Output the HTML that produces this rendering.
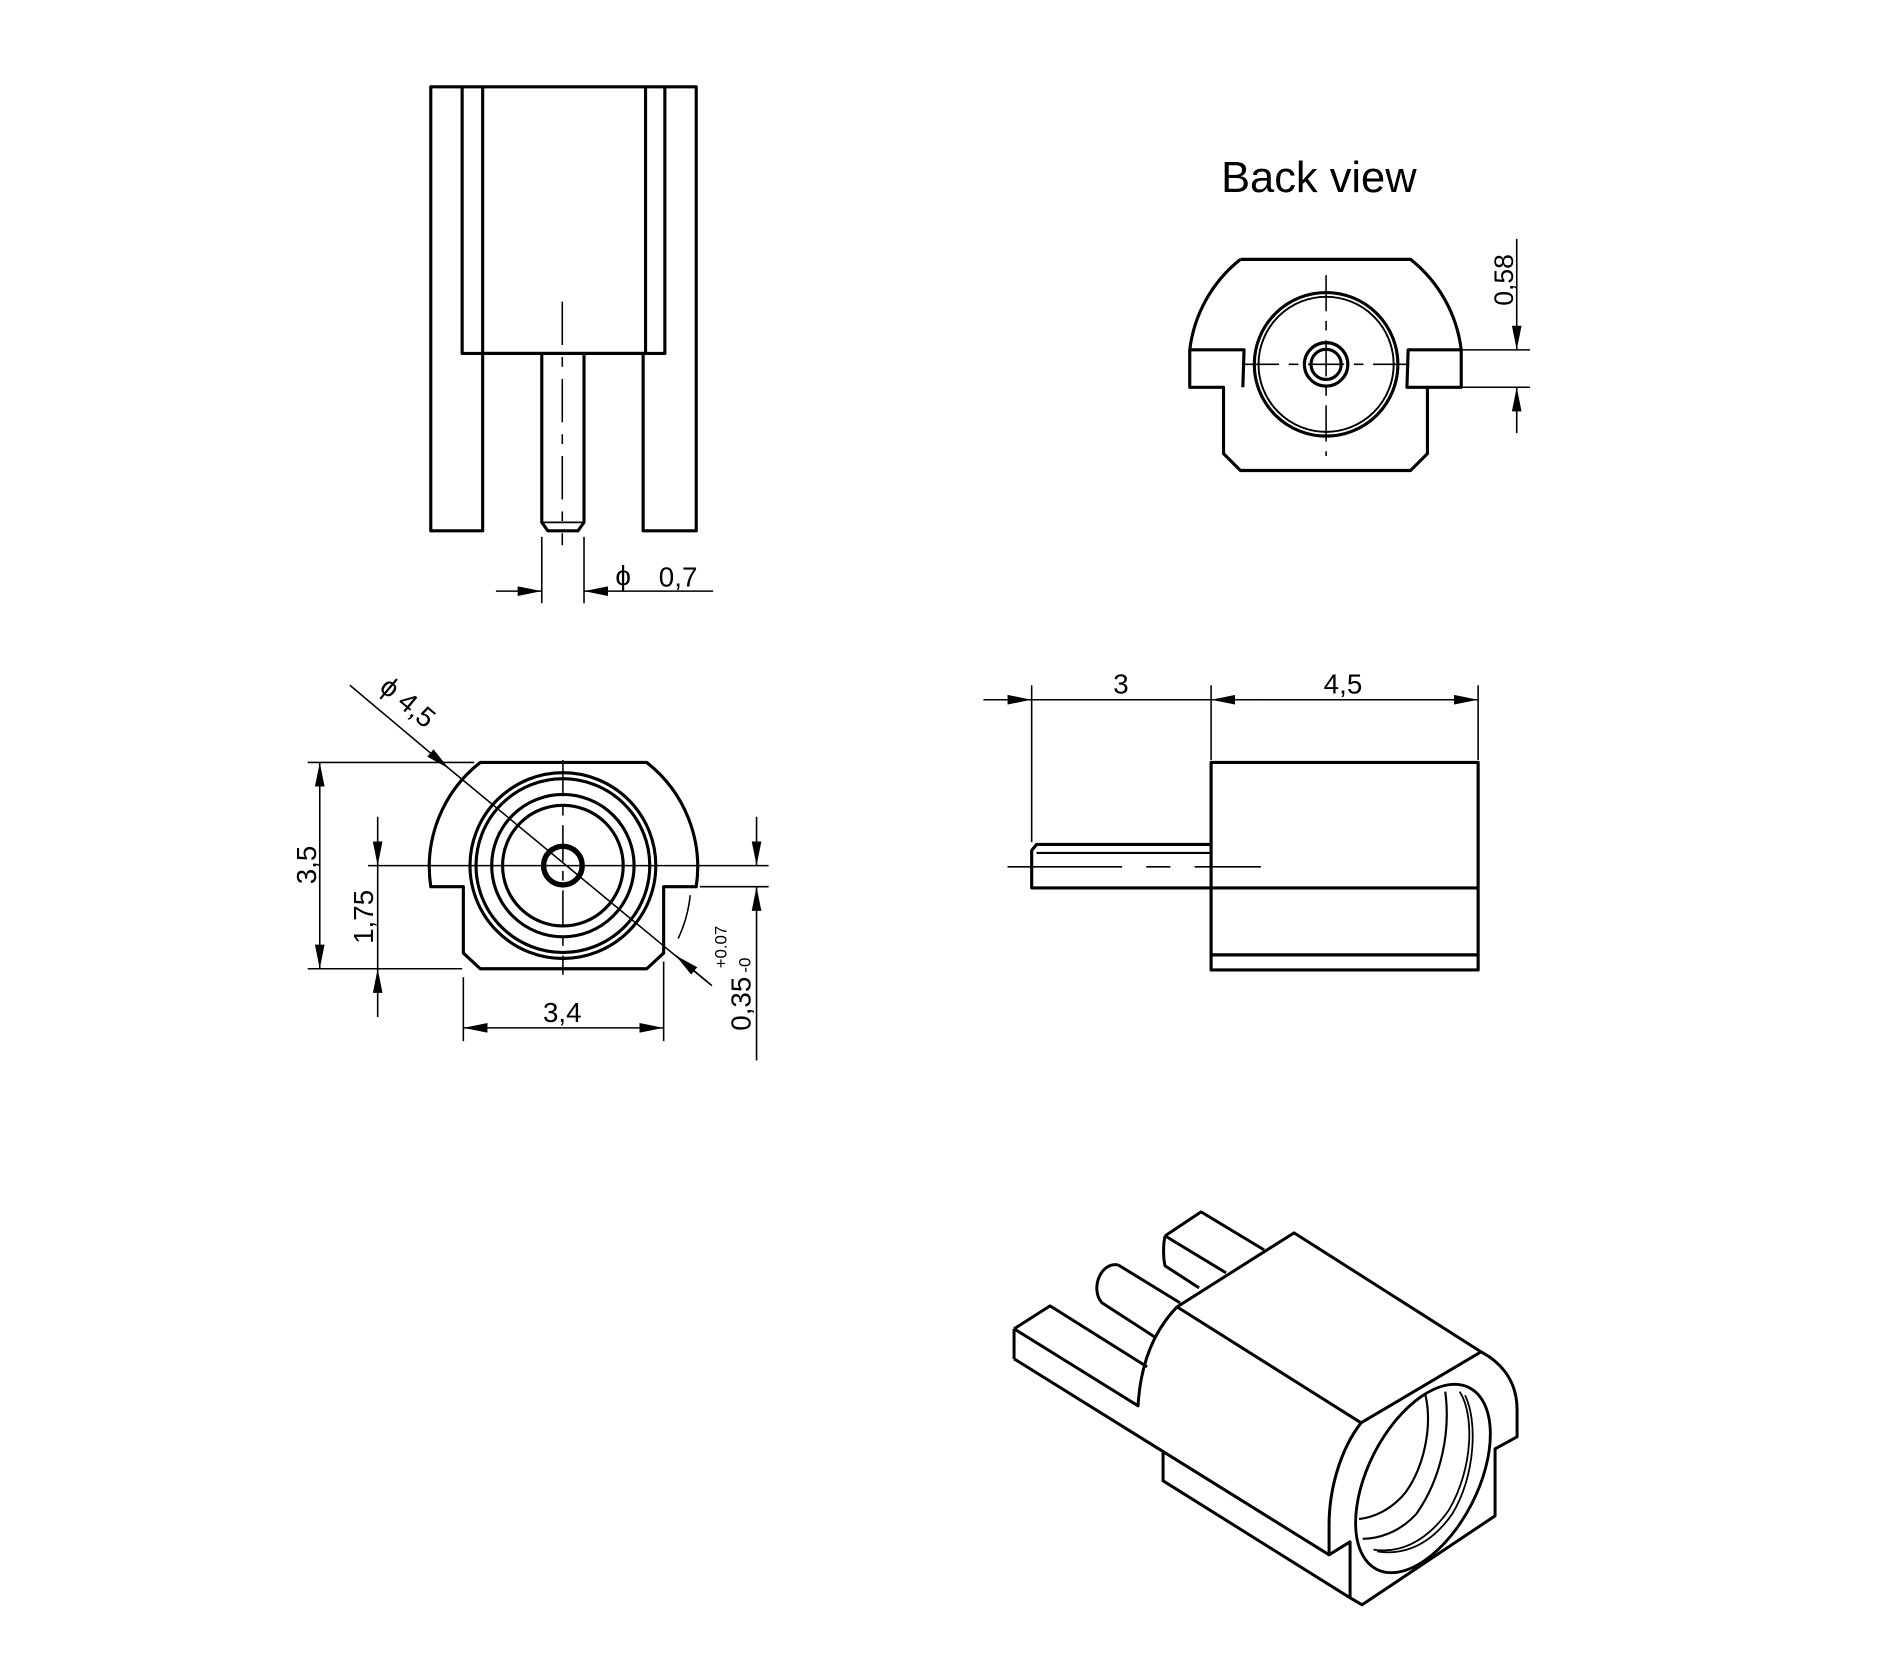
<!DOCTYPE html>
<html><head><meta charset="utf-8"><style>
html,body{margin:0;padding:0;background:#fff;}
svg{display:block;}
text{font-family:"Liberation Sans",Arial,sans-serif;fill:#000;}
</style></head><body>
<svg width="1892" height="1654" viewBox="0 0 1568 1371" preserveAspectRatio="none" xmlns="http://www.w3.org/2000/svg">
<defs>
<marker id="a" viewBox="0 0 20 8" refX="20" refY="4" markerWidth="20" markerHeight="8" markerUnits="userSpaceOnUse" orient="auto-start-reverse"><path d="M0,0 L20,4 L0,8 z" fill="#000"/></marker>
</defs>
<g fill="none" stroke="#000" stroke-width="2.6" stroke-linejoin="round">
<!-- Top-left view -->
<path d="M357,72 H577 V440 H533 V293 H400 V440 H357 Z"/>
<path d="M383,72 V293 H551 V72" />
<line x1="400" y1="72" x2="400" y2="293"/>
<line x1="535" y1="72" x2="535" y2="293"/>
<path d="M449,293 V433 L454,440 H479 L484,433 V293"/>
<line x1="449" y1="433" x2="484" y2="433" stroke-width="1.5"/>
</g>
<g fill="none" stroke="#000" stroke-width="1.3">
<line x1="466" y1="250" x2="466" y2="452" stroke-dasharray="36,10,8,10"/>
<line x1="449" y1="445" x2="449" y2="500"/>
<line x1="484" y1="445" x2="484" y2="500"/>
<line x1="411" y1="490" x2="449" y2="490" marker-end="url(#a)"/>
<line x1="591" y1="490" x2="484" y2="490" marker-end="url(#a)"/>
</g>
<text x="510" y="485" font-size="23">ϕ</text>
<text x="546" y="486" font-size="23">0,7</text>

<!-- Back view -->
<text x="1093" y="159" font-size="36" text-anchor="middle">Back view</text>
<g fill="none" stroke="#000" stroke-width="2.6" stroke-linejoin="round">
<path d="M1028,215 H1169 A113,113 0 0 1 1211,290 V321 H1166 L1167,290 H1211 M1183,321 V376 L1169,390 H1028 L1014,376 V321 H986 V290 H1031 L1030,321 M986,290 A113,113 0 0 1 1028,215"/>
<circle cx="1099" cy="302" r="59.5"/>
<circle cx="1099" cy="302" r="56" stroke-width="1.6"/>
<circle cx="1099" cy="302" r="18"/>
<circle cx="1099" cy="302" r="12.5"/>
</g>
<g fill="none" stroke="#000" stroke-width="1.3">
<line x1="1030" y1="302" x2="1168" y2="302" stroke-dasharray="30,8,8,8"/>
<line x1="1099" y1="228" x2="1099" y2="378" stroke-dasharray="30,8,8,8"/>
<line x1="1212" y1="290" x2="1268" y2="290"/>
<line x1="1212" y1="321" x2="1268" y2="321"/>
<line x1="1257" y1="198" x2="1257" y2="290" marker-end="url(#a)"/>
<line x1="1257" y1="359" x2="1257" y2="321" marker-end="url(#a)"/>
</g>
<text transform="translate(1254,232) rotate(-90)" font-size="22" text-anchor="middle">0,58</text>

<!-- Front view -->
<g fill="none" stroke="#000" stroke-width="2.6" stroke-linejoin="round">
<path d="M398,632 H536 A110,110 0 0 1 577,735 H550 V790 L536,803 H398 L384,790 V735 H357 A110,110 0 0 1 398,632 Z"/>
<circle cx="466.5" cy="717.5" r="77"/>
<circle cx="466.5" cy="717.5" r="72"/>
<circle cx="466.5" cy="717.5" r="59"/>
<circle cx="466.5" cy="717.5" r="50"/>
<circle cx="466.5" cy="717.5" r="16" stroke-width="4.5"/>
</g>
<g fill="none" stroke="#000" stroke-width="1.3">
<path d="M572,742 A110,110 0 0 1 562,778"/>
<line x1="466.5" y1="630" x2="466.5" y2="808" stroke-dasharray="30,8,8,8"/>
<line x1="305" y1="717.5" x2="637" y2="717.5"/>
<line x1="290" y1="568" x2="372" y2="637" marker-end="url(#a)"/>
<line x1="372" y1="637" x2="585" y2="813"/>
<line x1="590" y1="817" x2="560" y2="792" marker-end="url(#a)"/>
<line x1="255" y1="632" x2="393" y2="632"/>
<line x1="255" y1="803" x2="383" y2="803"/>
<line x1="265" y1="717" x2="265" y2="632" marker-end="url(#a)"/>
<line x1="265" y1="717" x2="265" y2="803" marker-end="url(#a)"/>
<line x1="313" y1="677" x2="313" y2="717.5" marker-end="url(#a)"/>
<line x1="313" y1="717.5" x2="313" y2="803"/>
<line x1="313" y1="843" x2="313" y2="803" marker-end="url(#a)"/>
<line x1="384" y1="810" x2="384" y2="863"/>
<line x1="550" y1="797" x2="550" y2="863"/>
<line x1="466" y1="852" x2="384" y2="852" marker-end="url(#a)"/>
<line x1="466" y1="852" x2="550" y2="852" marker-end="url(#a)"/>
<line x1="580" y1="735" x2="637" y2="735"/>
<line x1="627" y1="677" x2="627" y2="717.5" marker-end="url(#a)"/>
<line x1="627" y1="879" x2="627" y2="735" marker-end="url(#a)"/>
</g>
<text transform="translate(333,588) rotate(40)" font-size="23" text-anchor="middle">ϕ 4,5</text>
<text transform="translate(262,717) rotate(-90)" font-size="23" text-anchor="middle">3,5</text>
<text transform="translate(309,760) rotate(-90)" font-size="23" text-anchor="middle">1,75</text>
<text x="466" y="847" font-size="23" text-anchor="middle">3,4</text>
<text transform="translate(622,832) rotate(-90)" font-size="23" text-anchor="middle">0,35</text>
<text transform="translate(602,785) rotate(-90)" font-size="14" text-anchor="middle">+0.07</text>
<text transform="translate(622,800) rotate(-90)" font-size="14" text-anchor="middle">-0</text>

<!-- Side view -->
<g fill="none" stroke="#000" stroke-width="2.6" stroke-linejoin="round">
<path d="M1003.7,632 H1225 V804 H1003.7 Z"/>
<line x1="1003.7" y1="791.5" x2="1225" y2="791.5"/>
<path d="M1003.7,736 H855 V705 L859,700 H1003.7"/>
<line x1="859" y1="707" x2="1003.7" y2="707" stroke-width="1.8"/>
<line x1="1003.7" y1="736" x2="1225" y2="736"/>
</g>
<g fill="none" stroke="#000" stroke-width="1.3">
<line x1="835" y1="718.5" x2="1045" y2="718.5" stroke-dasharray="95,20,20,20"/>
<line x1="855" y1="568" x2="855" y2="698"/>
<line x1="1003.7" y1="568" x2="1003.7" y2="630"/>
<line x1="1225" y1="568" x2="1225" y2="630"/>
<line x1="815" y1="580" x2="855" y2="580" marker-end="url(#a)"/>
<line x1="855" y1="580" x2="1003.7" y2="580"/>
<line x1="1045" y1="580" x2="1003.7" y2="580" marker-end="url(#a)"/>
<line x1="1045" y1="580" x2="1225" y2="580" marker-end="url(#a)"/>
</g>
<text x="929" y="575" font-size="23" text-anchor="middle">3</text>
<text x="1113" y="575" font-size="23" text-anchor="middle">4,5</text>

<!-- Isometric -->
<g transform="scale(0.8288)" fill="none" stroke="#000" stroke-width="3" stroke-linejoin="round">
<path d="M1177,1307 L1294,1233 L1481,1352 L1361,1423 Z"/>
<path d="M1481,1352 C1505,1365 1517,1385 1517,1410 V1437 L1495,1449 V1516 L1362,1605 L1350,1598"/>
<path d="M1361,1423 C1340,1450 1329,1490 1329,1525 V1555 L1350,1542 V1598"/>
<path d="M1014,1359 L1329,1555"/>
<path d="M1163,1453 V1481 L1350,1598"/>
<path d="M1014,1329 L1050,1306 L1147,1367 M1014,1329 V1359 M1014,1329 L1138,1406 C1140,1370 1150,1335 1177,1307"/>
<path d="M1118,1265 C1100,1262 1090,1290 1102,1303 L1156,1338 M1118,1265 L1180,1303"/>
<path d="M1165,1236 L1201,1212 L1264,1250 M1165,1236 L1226,1273 M1165,1236 C1163,1245 1163,1258 1165,1266 L1199,1288"/>
</g>
<g transform="scale(0.8288) translate(1000,1180) scale(0.359)" fill="none" stroke="#000" stroke-width="8">
<ellipse cx="1178" cy="832" rx="284" ry="153" transform="rotate(-63 1178 832)"/>
<path d="M1185,600 C1205,690 1180,800 1130,870 C1090,920 1040,940 1000,945" stroke-width="6"/>
<path d="M1240,590 C1255,700 1230,830 1160,930 C1110,985 1050,1000 1010,1000" stroke-width="6"/>
<path d="M1280,590 C1320,650 1320,800 1250,920 C1180,1020 1100,1040 1040,1030" stroke-width="5"/>
<path d="M1295,600 C1330,670 1325,820 1260,930 C1190,1030 1110,1045 1050,1035" stroke-width="5"/>
</g>
</svg>
</body></html>
